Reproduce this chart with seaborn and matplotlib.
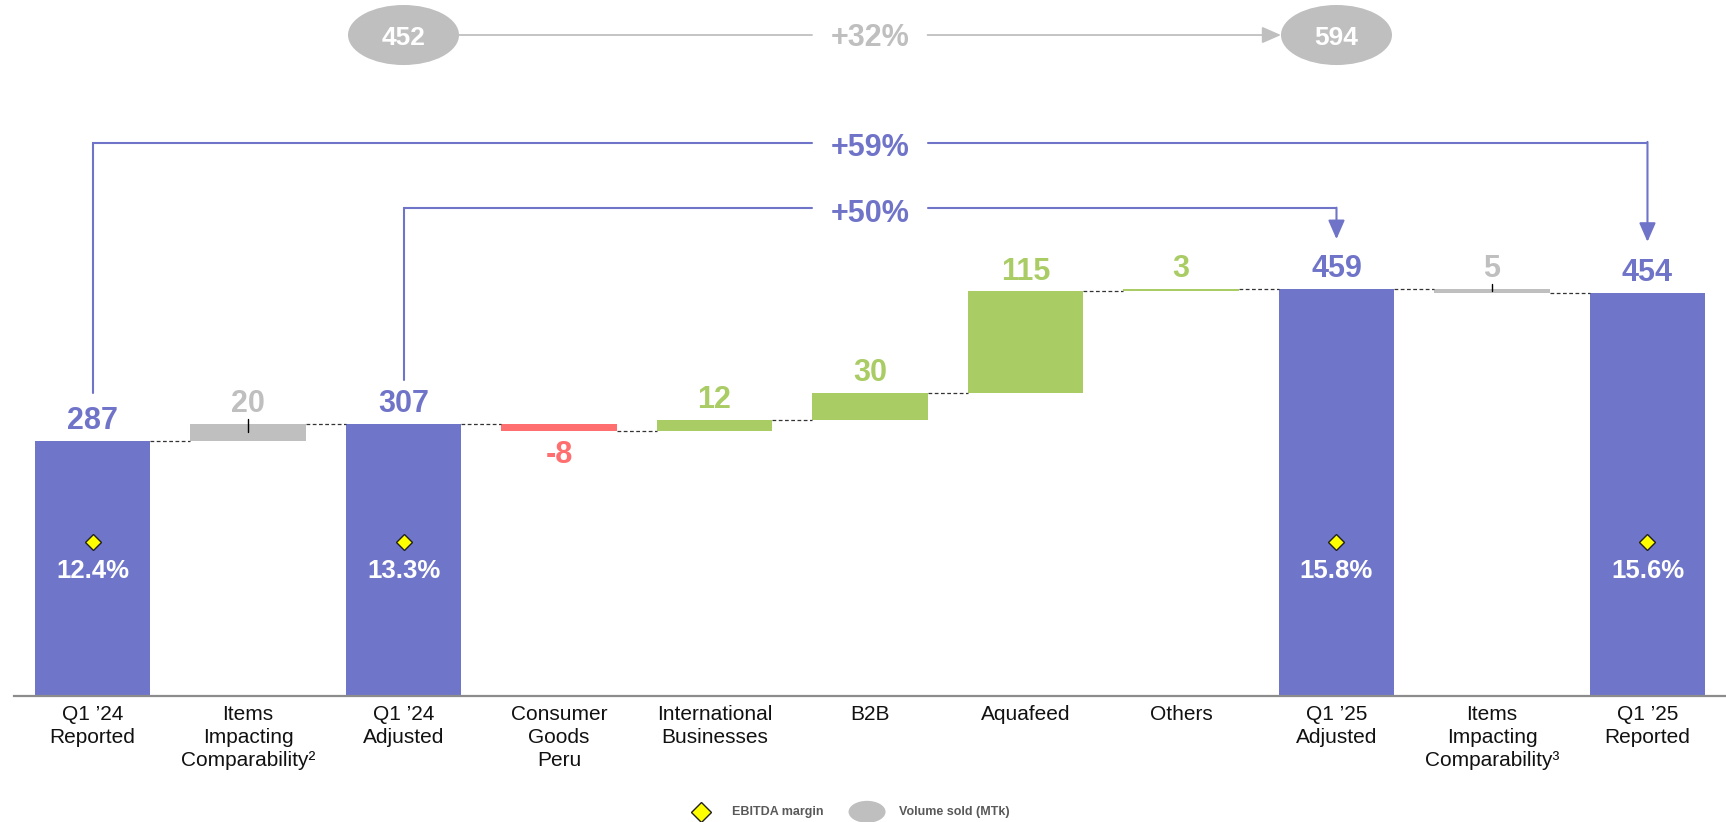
import numpy as np
import pandas as pd
import matplotlib
matplotlib.use("Agg")
import matplotlib.pyplot as plt
import seaborn as sns
from matplotlib.patches import Ellipse

# ---------------- data ----------------
categories = ["Q1 ’24\nReported", "Items\nImpacting\nComparability²", "Q1 ’24\nAdjusted",
              "Consumer\nGoods\nPeru", "International\nBusinesses", "B2B", "Aquafeed",
              "Others", "Q1 ’25\nAdjusted", "Items\nImpacting\nComparability³", "Q1 ’25\nReported"]
kinds = ["total", "item", "total", "delta", "delta", "delta", "delta", "delta", "total", "item", "total"]
values = [287, 20, 307, -8, 12, 30, 115, 3, 459, -5, 454]
value_labels = ["287", "20", "307", "-8", "12", "30", "115", "3", "459", "5", "454"]
ebitda_idx = [0, 2, 8, 10]
ebitda_margin = ["12.4%", "13.3%", "15.8%", "15.6%"]
volume_idx = [2, 8]
volume_sold = ["452", "594"]
volume_growth = "+32%"
growth_from = [0, 2]
growth_to = [10, 8]
growth_labels = ["+59%", "+50%"]

# ---------------- style ----------------
PURPLE = "#6F76C9"
PURPLE_T = "#7074C8"
GRAY = "#BFBFBF"
GREEN = "#A9CC64"
RED = "#FF6F6F"

sns.set_style("white")
plt.rcParams["font.family"] = ["Liberation Sans", "DejaVu Sans"]

# waterfall geometry derived from values
bottoms, tops, ends = [], [], []
running = 0
for k, v in zip(kinds, values):
    if k == "total":
        b, t = 0, v
        running = v
    else:
        start = running
        running = running + v
        b, t = min(start, running), max(start, running)
    bottoms.append(b); tops.append(t); ends.append(running)
colors = []
for k, v in zip(kinds, values):
    if k == "total":
        colors.append(PURPLE)
    elif k == "item":
        colors.append(GRAY)
    else:
        colors.append(GREEN if v >= 0 else RED)
label_colors = [PURPLE_T if c == PURPLE else c for c in colors]

df = pd.DataFrame({"cat": categories, "height": np.array(tops) - np.array(bottoms)})

fig = plt.figure(figsize=(17.26, 8.22), dpi=100)
ax = fig.add_axes([14 / 1726, 126.3 / 822, 1712 / 1726, 695.7 / 822])

sns.barplot(data=df, x="cat", y="height", ax=ax, width=0.74, color=PURPLE,
            saturation=1, errorbar=None, order=categories)
for p, b, c in zip(ax.patches, bottoms, colors):
    p.set_y(b)
    p.set_facecolor(c)
    p.set_edgecolor("none")

ax.set_xlim(-0.505, 10.505)
ax.set_ylim(0, 784.8)
ax.set_xlabel("")
ax.set_ylabel("")
ax.set_yticks([])
for s in ["top", "right", "left"]:
    ax.spines[s].set_visible(False)
ax.spines["bottom"].set_color("#8C8C8C")
ax.spines["bottom"].set_linewidth(1.6)
ax.tick_params(axis="x", length=0, pad=6.5, labelsize=15, labelcolor="#111111")
for t in ax.get_xticklabels():
    t.set_linespacing(1.29)

hw = 0.37
# connectors
for i in range(len(values) - 1):
    lvl = ends[i]
    ax.plot([i + hw, i + 1 - hw], [lvl, lvl], ls=(0, (3, 2)), color="#333333", lw=0.9, zorder=1)

# tick on item bars
for i, k in enumerate(kinds):
    if k == "item":
        mid = (tops[i] + bottoms[i]) / 2
        ax.plot([i, i], [tops[i] + 5.5, mid], color="black", lw=1.0, zorder=3)

# value labels
for i, (lab, v) in enumerate(zip(value_labels, values)):
    if kinds[i] == "delta" and v < 0:
        ax.text(i, bottoms[i] - 36, lab, ha="center", va="baseline", fontsize=22,
                fontweight="bold", color=label_colors[i])
    else:
        ax.text(i, tops[i] + 13.5, lab, ha="center", va="baseline", fontsize=22,
                fontweight="bold", color=label_colors[i])

# EBITDA margins
ax.plot(ebitda_idx, [173] * len(ebitda_idx), ls="none", marker="D", markersize=8,
        markerfacecolor="#FFFF00", markeredgecolor="#222222", markeredgewidth=1, zorder=4)
for i, m in zip(ebitda_idx, ebitda_margin):
    ax.text(i, 132.4, m, ha="center", va="baseline", fontsize=18.5, fontweight="bold",
            color="white", zorder=4)

# growth brackets
bracket_y = [624, 549.8]
start_gap = [55, 49]
tip_gap = [58, 56]
for a, b, lab, y, sg, tg in zip(growth_from, growth_to, growth_labels, bracket_y, start_gap, tip_gap):
    ax.plot([a, a, 4.625], [tops[a] + sg, y, y], color=PURPLE_T, lw=1.5, clip_on=False,
            solid_joinstyle="miter")
    ax.plot([5.375, b], [y, y], color=PURPLE_T, lw=1.5, solid_joinstyle="miter")
    ax.annotate("", xy=(b, tops[b] + tg), xytext=(b, y + 0.75),
                arrowprops=dict(arrowstyle="-|>,head_length=0.8,head_width=0.35",
                                mutation_scale=14.4, color=PURPLE_T, lw=1.5,
                                shrinkA=0, shrinkB=0))
    ax.text(5, y - 15, lab, ha="center", va="baseline", fontsize=22, fontweight="bold",
            color=PURPLE_T)

# volume sold row
vy = 745.3
ew, eh = 0.714, 67.7
for i, vol in zip(volume_idx, volume_sold):
    ax.add_patch(Ellipse((i, vy), ew, eh, facecolor=GRAY, edgecolor="none", clip_on=False))
    ax.text(i, 733.6, vol, ha="center", va="baseline", fontsize=19, fontweight="bold",
            color="white")
ax.plot([volume_idx[0] + ew / 2, 4.63], [vy, vy], color=GRAY, lw=1.3)
ax.annotate("", xy=(volume_idx[1] - ew / 2, vy), xytext=(5.37, vy),
            arrowprops=dict(arrowstyle="-|>,head_length=0.8,head_width=0.35",
                            mutation_scale=14.4, color=GRAY, lw=1.3, shrinkA=0, shrinkB=0))
ax.text(5, 733.0, volume_growth, ha="center", va="baseline", fontsize=22, fontweight="bold",
        color=GRAY)

# legend
ly = -131
ax.plot([3.913], [ly], marker="D", markersize=10, markerfacecolor="#FFFF00",
        markeredgecolor="#222222", markeredgewidth=1, clip_on=False, ls="none")
ax.text(4.113, ly, "EBITDA margin", ha="left", va="center", fontsize=9, fontweight="bold",
        color="#595959")
ax.add_patch(Ellipse((4.981, ly), 0.238, 24.8, facecolor=GRAY, edgecolor="none", clip_on=False))
ax.text(5.186, ly, "Volume sold (MTk)", ha="left", va="center", fontsize=9, fontweight="bold",
        color="#595959")

fig.savefig("out.png", dpi=100)
